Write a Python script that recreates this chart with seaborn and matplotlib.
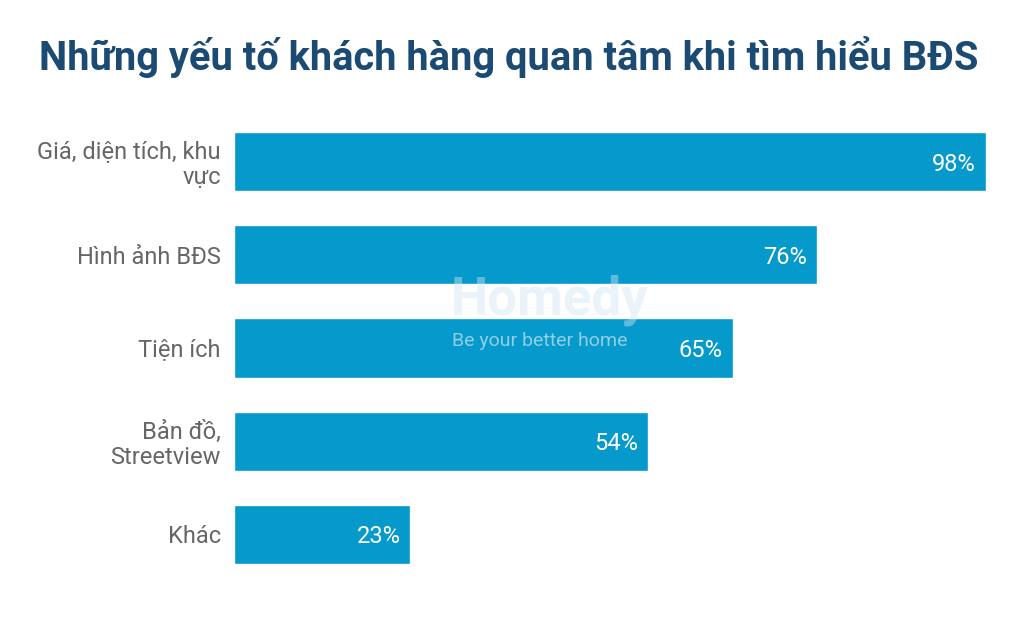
import matplotlib
matplotlib.use("Agg")
import matplotlib.pyplot as plt
import seaborn as sns
import pandas as pd

categories = ["Giá, diện tích, khu\nvực", "Hình ảnh BĐS", "Tiện ích", "Bản đồ,\nStreetview", "Khác"]
values = [98, 76, 65, 54, 23]
value_labels = ["98%", "76%", "65%", "54%", "23%"]
title = "Những yếu tố khách hàng quan tâm khi tìm hiểu BĐS"

sns.set_style("white")
plt.rcParams["font.family"] = ["Roboto", "DejaVu Sans"]

df = pd.DataFrame({"factor": categories, "pct": values})

fig = plt.figure(figsize=(10.18, 6.29), dpi=100)
ax = fig.add_axes([0.2299, 0.0763, 0.9833 - 0.2299, 0.8172 - 0.0763])

sns.barplot(data=df, x="pct", y="factor", color="#0599cc", saturation=1,
            width=0.635, ax=ax, orient="h")

ax.set_xlim(0, 100)
ax.set_ylim(4.5, -0.5)
ax.set_xlabel("")
ax.set_ylabel("")
ax.set_xticks([])
sns.despine(ax=ax, left=True, bottom=True)
ax.tick_params(axis="y", length=0, pad=9.5, labelsize=17, labelcolor="#666666")
for lab in ax.get_yticklabels():
    lab.set_linespacing(1.1)
    lab.set_y(lab.get_position()[1])

for i, (v, lab) in enumerate(zip(values, value_labels)):
    ax.text(v - 1.3, i, lab, ha="right", va="center_baseline", color="white", fontsize=17)

# faint watermark
fig.text(0.443, 0.522, "Homedy", fontsize=38, fontweight="bold", color="#cfe6f2",
         alpha=0.45, ha="left", va="center")
fig.text(0.444, 0.458, "Be your better home", fontsize=14, color="#cfe6f2",
         alpha=0.7, ha="left", va="center")

t = fig.text(0.5, 1 - 57 / 629, title, ha="center", va="center",
             fontsize=30, fontweight="bold", color="#1b4a72")
fig.canvas.draw()
w = t.get_window_extent().width
t.set_fontsize(30 * 938 / w)

fig.savefig("out.png", dpi=100)
